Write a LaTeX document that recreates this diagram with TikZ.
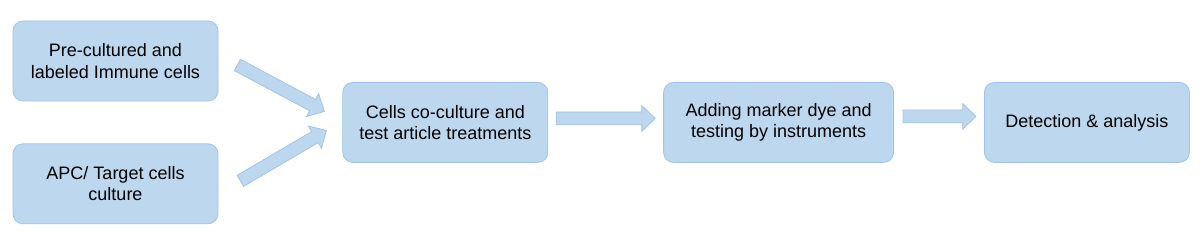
\documentclass[tikz,border=0pt]{standalone}
\usepackage{fontspec}
\setmainfont{Liberation Sans}
\usetikzlibrary{positioning,calc,shapes.arrows}
\definecolor{boxfill}{HTML}{BDD7EE}
\definecolor{boxline}{HTML}{A2C4E6}
\tikzset{
  stepbox/.style={rectangle,rounded corners=10pt,draw=boxline,line width=0.8pt,
    fill=boxfill,text=black,align=center,font=\fontsize{18}{21.5}\selectfont,
    minimum height=80pt,minimum width=205pt,inner sep=0pt},
  flowarr/.style={single arrow,draw=boxline,fill=boxfill,line width=0.8pt,
    single arrow head extend=6.5pt,single arrow tip angle=88,
    inner xsep=0pt,inner ysep=6pt,minimum width=25pt,outer sep=0pt},
}
\newcommand{\blockarrow}[2]{%
  \path let \p1=($(#2)-(#1)$), \n1={atan2(\y1,\x1)}, \n2={veclen(\x1,\y1)} in
    node[flowarr, rotate=\n1, minimum height=\n2, anchor=tail] at (#1) {};}

\begin{document}
\begin{tikzpicture}[x=1pt,y=-1pt]
  \useasboundingbox (0,0) rectangle (1201,240);
  \node[stepbox] (pre) at (115.5,61) {Pre-cultured and\\labeled Immune cells};
  \node[stepbox, below=42pt of pre] (apc) {APC/ Target cells\\culture};
  \coordinate (mid) at ($(pre.east)!0.5!(apc.east)$);
  \node[stepbox, right=124pt of mid] (cocult) {Cells co-culture and\\test article treatments};
  \node[stepbox, minimum width=230pt, right=115pt of cocult] (dye) {Adding marker dye and\\testing by instruments};
  \node[stepbox, right=90pt of dye] (det) {Detection \& analysis};

  % arrow ends
  \coordinate (a1s) at ($(pre.east)+(19,4)$);
  \coordinate (a1e) at ($(cocult.west)+(-18,-11)$);
  \coordinate (a2s) at ($(apc.east)+(22,-3)$);
  \coordinate (a2e) at ($(cocult.west)+(-16,8)$);
  \coordinate (a3s) at ($(cocult.east)+(8,-4)$);
  \coordinate (a3e) at ($(dye.west)+(-8,-4)$);
  \coordinate (a4s) at ($(dye.east)+(9,-6)$);
  \coordinate (a4e) at ($(det.west)+(-8,-6)$);

  \blockarrow{a1s}{a1e}
  \blockarrow{a2s}{a2e}
  \blockarrow{a3s}{a3e}
  \blockarrow{a4s}{a4e}
\end{tikzpicture}
\end{document}
